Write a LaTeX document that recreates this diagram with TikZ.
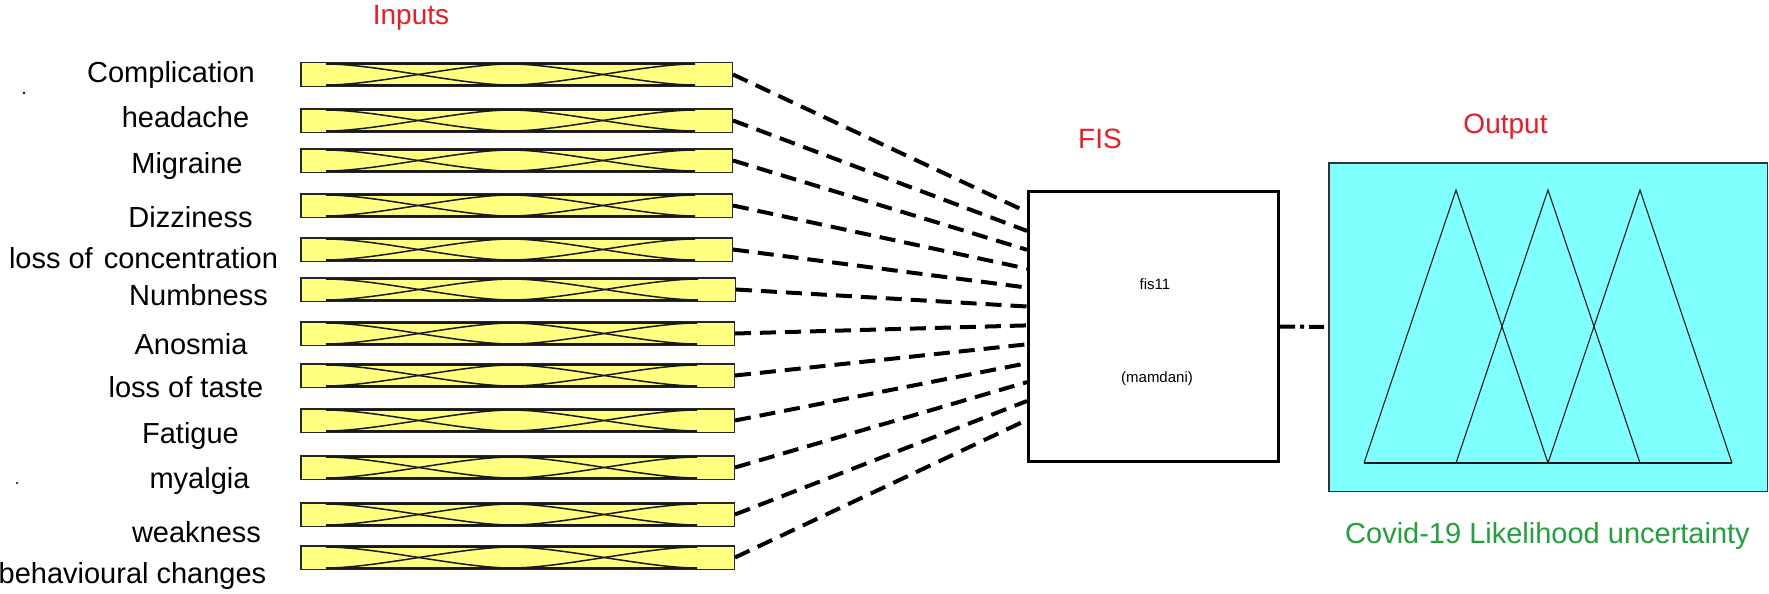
\documentclass[tikz,border=0pt]{standalone}
\usepackage{fontspec}
\setmainfont{Liberation Sans}
\usetikzlibrary{calc}
\definecolor{inred}{RGB}{237,28,36}
\definecolor{outgreen}{RGB}{34,160,60}
\definecolor{mfyellow}{RGB}{255,255,128}
\definecolor{outcyan}{RGB}{128,255,255}
\begin{document}
\begin{tikzpicture}[x=1pt,y=-1pt,
  lab/.style={font=\fontsize{29}{34}\selectfont, anchor=base, inner sep=0},
  titlelab/.style={font=\fontsize{28}{34}\selectfont, text=inred, anchor=base, inner sep=0},
  smalllab/.style={font=\fontsize{15}{18}\selectfont, anchor=base, inner sep=0},
  inbox/.style={draw=black!85, line width=1.5pt, fill=mfyellow, inner sep=0, minimum height=23.5pt},
  mf/.style={line width=1.5pt, black!90},
  conn/.style={line width=4pt, dash pattern=on 16pt off 9pt},
  outconn/.style={line width=4pt, dash pattern=on 15pt off 5pt on 4pt off 5pt},
  fisbox/.style={draw=black, line width=3pt, fill=white, inner sep=0, minimum width=250pt, minimum height=270pt},
  outbox/.style={draw=black!80, line width=1.5pt, fill=outcyan, inner sep=0, minimum width=438.5pt, minimum height=328.5pt},
  tri/.style={line width=1.1pt, black!90, line join=miter}]
\useasboundingbox (0,0) rectangle (1769,594);

% titles
\node[titlelab] (tin) at (411,25) {Inputs};
\node[titlelab] (tfis) at (1100,148) {FIS};
\node[titlelab] (tout) at (1505.5,133) {Output};
\node[lab, text=outgreen] (tcov) at (1547.5,543) {Covid-19 Likelihood uncertainty};

% input labels
\node[lab] (l1) at (171,82) {Complication};
\node[lab] (l2) at (185.5,127) {headache};
\node[lab] (l3) at (187,173) {Migraine};
\node[lab] (l4) at (190.5,227) {Dizziness};
\node[lab] (l5) at (143.5,268) {loss of\hspace{3pt} concentration};
\node[lab] (l6) at (198.5,305) {Numbness};
\node[lab] (l7) at (191,354) {Anosmia};
\node[lab] (l8) at (186,397) {loss of taste};
\node[lab] (l9) at (190.5,443) {Fatigue};
\node[lab] (l10) at (199.5,488) {myalgia};
\node[lab] (l11) at (196.5,542) {weakness};
\node[lab] (l12) at (132.5,583) {behavioural changes};

% stray dots
\fill (24,93) circle (1.3);
\fill (17,483) circle (1.1);

% FIS box
\node[fisbox] (fis) at (1153.5,326.5) {};
\node[smalllab] (fname) at (1155,289) {fis11};
\node[smalllab] (ftype) at (1157,382) {(mamdani)};

% output box
\node[outbox] (out) at (1548,327) {};
\draw[tri] (1364,463) -- (1456,190) -- (1548,463);
\draw[tri] (1456,463) -- (1548,190) -- (1640,463);
\draw[tri] (1548,463) -- (1640,190) -- (1732,463);
\draw[tri] (1364,463) -- (1732,463);

% input boxes with membership functions
\foreach \i/\tp/\rt in {1/62/733,2/108/733,3/148/733,4/193/733,5/237/733,6/277/736,7/321/735,8/363/735,9/408/735,10/455/735,11/502/735,12/545/735}{
  \pgfmathsetmacro{\cx}{(300+\rt)/2}
  \pgfmathsetmacro{\bw}{\rt-300-1.5}
  \pgfmathsetmacro{\cy}{\tp+12.5}
  \node[inbox, minimum width=\bw pt] (in\i) at (\cx,\cy) {};
  \pgfmathsetmacro{\ma}{326}
  \pgfmathsetmacro{\mb}{\rt-38}
  \pgfmathsetmacro{\mm}{(\ma+\mb)/2}
  \pgfmathsetmacro{\yt}{\tp+2}
  \pgfmathsetmacro{\yb}{\tp+23}
  \draw[mf] (\ma,\yt) .. controls (\ma+50,\yt) and (\mm-50,\yb) .. (\mm,\yb);
  \draw[mf] (\ma,\yb) .. controls (\ma+50,\yb) and (\mm-50,\yt) .. (\mm,\yt)
            .. controls (\mm+50,\yt) and (\mb-50,\yb) .. (\mb,\yb);
  \draw[mf] (\mm,\yb) .. controls (\mm+50,\yb) and (\mb-50,\yt) .. (\mb,\yt);
  \draw[line width=2.2pt, black!90] (\ma,\yb) -- (\mb,\yb);
  \draw[line width=1.4pt, black!90] (\ma,\yt) -- (\mb,\yt);
}

% connectors inputs -> FIS
\foreach \i in {1,...,12}{
  \pgfmathsetmacro{\fy}{212+18.9*(\i-1)}
  \coordinate (f\i) at (fis.west |- 0,\fy);
  \draw[conn] (in\i.east) -- (f\i);
}

% FIS -> output
\draw[outconn] (fis.east) -- (out.west);
\end{tikzpicture}
\end{document}
